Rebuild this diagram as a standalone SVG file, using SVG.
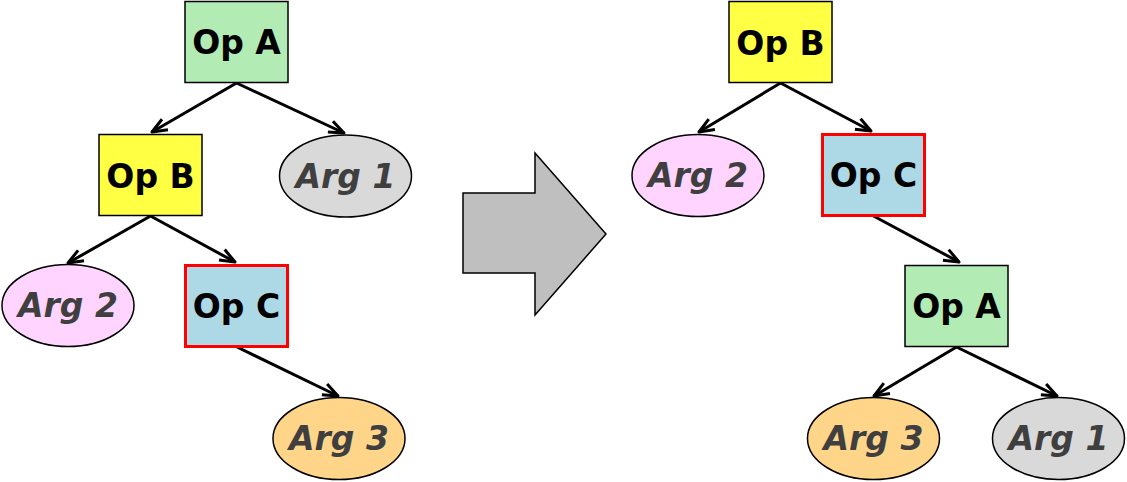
<svg xmlns="http://www.w3.org/2000/svg" width="1127" height="482" viewBox="0 0 1127 482">
<style>
.op rect{stroke:#000;stroke-width:1.5}
.op text{font-family:"DejaVu Sans",sans-serif;font-weight:bold;font-size:33px;fill:#000;text-anchor:middle}
.arg ellipse{stroke:#000;stroke-width:1.5}
.arg text{font-family:"DejaVu Sans",sans-serif;font-weight:bold;font-style:italic;font-size:33px;fill:#3f3f3f;text-anchor:middle}
.sel rect{stroke:#ff0000;stroke-width:3}
#edges line{stroke:#000;stroke-width:3;marker-end:url(#ah)}
</style>
<defs>
<marker id="ah" markerUnits="userSpaceOnUse" markerWidth="20" markerHeight="20" viewBox="0 0 20 20" refX="17" refY="10" orient="auto">
<path d="M2,4 L17,10 L2,16" fill="none" stroke="#000" stroke-width="3" stroke-linejoin="round"/>
</marker>
</defs>
<rect width="1127" height="482" fill="#fff"/>
<g id="edges">
<line x1="236.5" y1="83" x2="152" y2="132"/>
<line x1="236.5" y1="83" x2="344" y2="133"/>
<line x1="150.5" y1="216" x2="68" y2="263"/>
<line x1="150.5" y1="216" x2="235" y2="262"/>
<line x1="237" y1="347" x2="338" y2="396"/>
<line x1="780.5" y1="83" x2="699" y2="132"/>
<line x1="780.5" y1="83" x2="871" y2="131"/>
<line x1="873.5" y1="216" x2="959" y2="262"/>
<line x1="956.5" y1="347" x2="874" y2="396"/>
<line x1="956.5" y1="347" x2="1057" y2="396"/>
</g>
<g id="opA_left" class="op"><rect x="185" y="1.5" width="103" height="81" fill="#b2ebb4"/><text x="236.5" y="54">Op A</text></g>
<g id="opB_left" class="op"><rect x="99" y="134.5" width="103" height="81" fill="#ffff44"/><text x="150.5" y="188">Op B</text></g>
<g id="arg1_left" class="arg"><ellipse cx="345.5" cy="176" rx="66" ry="41" fill="#d9d9d9"/><text x="345.5" y="187.5">Arg 1</text></g>
<g id="arg2_left" class="arg"><ellipse cx="68" cy="305.5" rx="66" ry="41" fill="#ffd5ff"/><text x="68" y="317">Arg 2</text></g>
<g id="opC_left" class="op sel"><rect x="185.5" y="265.5" width="102" height="81" fill="#add8e6"/><text x="236.5" y="318">Op C</text></g>
<g id="arg3_left" class="arg"><ellipse cx="339" cy="438.5" rx="66" ry="41" fill="#ffd58a"/><text x="339" y="450">Arg 3</text></g>
<polygon id="transform_arrow" points="463,193 535,193 535,153 606,234 535,315 535,273 463,273" fill="#bfbfbf" stroke="#000" stroke-width="1.5"/>
<g id="opB_right" class="op"><rect x="729" y="1.5" width="103" height="81" fill="#ffff44"/><text x="780.5" y="55">Op B</text></g>
<g id="arg2_right" class="arg"><ellipse cx="698" cy="175.5" rx="66" ry="41" fill="#ffd5ff"/><text x="698" y="187">Arg 2</text></g>
<g id="opC_right" class="op sel"><rect x="822.5" y="134.5" width="102" height="81" fill="#add8e6"/><text x="873.5" y="187">Op C</text></g>
<g id="opA_right" class="op"><rect x="905" y="265.5" width="103" height="81" fill="#b2ebb4"/><text x="956.5" y="318">Op A</text></g>
<g id="arg3_right" class="arg"><ellipse cx="873.5" cy="438.5" rx="66" ry="41" fill="#ffd58a"/><text x="873.5" y="450">Arg 3</text></g>
<g id="arg1_right" class="arg"><ellipse cx="1058.5" cy="438.5" rx="66" ry="41" fill="#d9d9d9"/><text x="1058.5" y="450">Arg 1</text></g>
</svg>
